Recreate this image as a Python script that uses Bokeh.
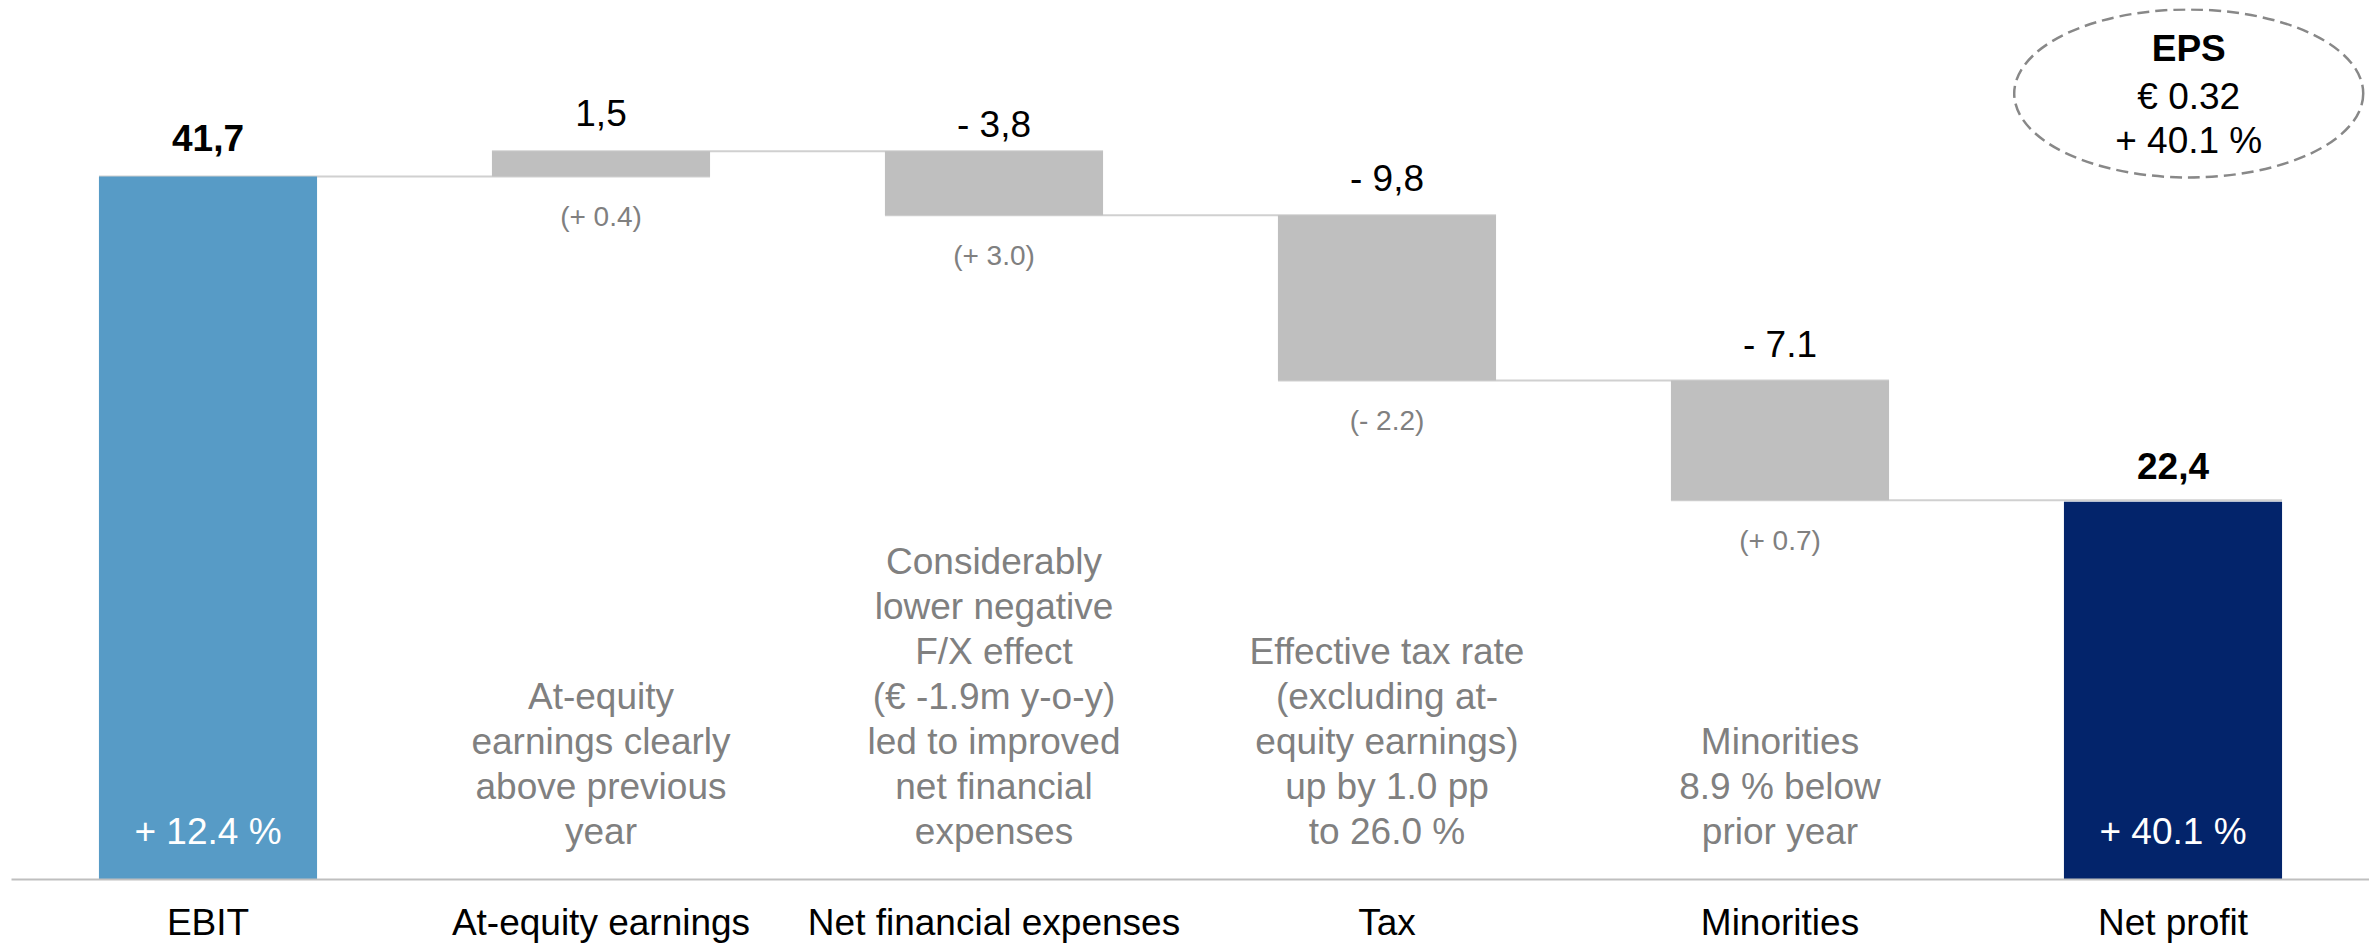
from bokeh.plotting import figure
from bokeh.models import FactorRange, Range1d, ColumnDataSource
from bokeh.core.properties import value
from bokeh.embed import file_html
from bokeh.resources import INLINE

# ---------------- data ----------------
categories = ["EBIT", "At-equity earnings", "Net financial expenses", "Tax", "Minorities", "Net profit"]
values = [41.7, 1.5, -3.8, -9.8, -7.1, 22.4]
is_total = [True, False, False, False, False, True]
value_labels = ["41,7", "1,5", "- 3,8", "- 9,8", "- 7.1", "22,4"]
change_labels = ["", "(+ 0.4)", "(+ 3.0)", "(- 2.2)", "(+ 0.7)", ""]
growth_labels = ["+ 12.4 %", "", "", "", "", "+ 40.1 %"]
notes = [
    [],
    ["At-equity", "earnings clearly", "above previous", "year"],
    ["Considerably", "lower negative", "F/X effect", "(\u20ac -1.9m y-o-y)", "led to improved", "net financial", "expenses"],
    ["Effective tax rate", "(excluding at-", "equity earnings)", "up by 1.0 pp", "to 26.0 %"],
    ["Minorities", "8.9 % below", "prior year"],
    [],
]
eps_lines = ["EPS", "\u20ac 0.32", "+ 40.1 %"]

# ---------------- style ----------------
FONT = "Liberation Sans"
FS = "37px"
FS_SMALL = "28px"
GRAY_TXT = "#808080"
bar_colors = ["#579BC6", "#BFBFBF", "#BFBFBF", "#BFBFBF", "#BFBFBF", "#03246B"]
label_styles = ["bold", "normal", "normal", "normal", "normal", "bold"]
label_gap_px = [38, 38, 27, 37, 36, 36]
BAR_W = 0.555

# ---------------- waterfall geometry from values ----------------
bottoms, tops, levels = [], [], []
running = 0.0
for v, tot in zip(values, is_total):
    if tot:
        b, t = 0.0, v
        running = v
    else:
        b, t = min(running, running + v), max(running, running + v)
        running += v
    bottoms.append(b)
    tops.append(t)
    levels.append(running)

p = figure(
    x_range=FactorRange(*categories, range_padding=0),
    y_range=Range1d(0, 51.66),
    frame_width=2358, frame_height=871,
    min_border_left=11, min_border_right=0, min_border_top=8, min_border_bottom=56,
    output_backend="svg", toolbar_location=None, y_axis_location=None,
)
p.outline_line_color = None
p.xgrid.visible = False
p.ygrid.visible = False
p.background_fill_color = "white"

# connectors
xc = [i + 0.5 for i in range(len(categories))]
seg = ColumnDataSource(dict(
    x0=[xc[i] - BAR_W / 2 for i in range(len(categories) - 1)],
    x1=[xc[i + 1] + BAR_W / 2 for i in range(len(categories) - 1)],
    y=[levels[i] for i in range(len(categories) - 1)],
))
p.segment(x0="x0", y0="y", x1="x1", y1="y", source=seg, line_color="#D0D0D0", line_width=2)

# bars
src = ColumnDataSource(dict(
    cat=categories, top=tops, bottom=bottoms, color=bar_colors,
    vlab=value_labels, style=label_styles, gap=[-g for g in label_gap_px],
    clab=change_labels, glab=growth_labels,
))
p.vbar(x="cat", top="top", bottom="bottom", width=BAR_W, source=src,
       fill_color="color", line_color=None)

# value labels above bars
p.text(x="cat", y="top", text="vlab", source=src, y_offset="gap",
       text_align="center", text_baseline="middle",
       text_font=value(FONT), text_font_size=FS, text_font_style="style",
       text_color="black")

# change labels below the grey bars
p.text(x="cat", y="bottom", text="clab", source=src, y_offset=40,
       text_align="center", text_baseline="middle",
       text_font=value(FONT), text_font_size=FS_SMALL, text_color=GRAY_TXT)

# growth labels inside total bars
p.text(x="cat", y=0, text="glab", source=src, y_offset=-48,
       text_align="center", text_baseline="middle",
       text_font=value(FONT), text_font_size=FS, text_color="white")

# notes
nx, nt, no = [], [], []
for cat, lines in zip(categories, notes):
    n = len(lines)
    for k, line in enumerate(lines):
        nx.append(cat)
        nt.append(line)
        no.append(-(48 + 45 * (n - 1 - k)))
p.text(x=nx, y=[0] * len(nx), text=nt, y_offset=no,
       text_align="center", text_baseline="middle",
       text_font=value(FONT), text_font_size=FS, text_color=GRAY_TXT)

# EPS bubble
ex = categories.index("Net profit") + 0.5 + 0.04
ey = 46.62
p.ellipse(x=[ex], y=[ey], width=[349], height=[168], width_units="screen", height_units="screen",
          fill_color=None, line_color="#888888", line_width=2.5, line_dash="12 6")
p.text(x=[ex] * 3, y=[ey] * 3, text=eps_lines, y_offset=[-45, 3, 47],
       text_align="center", text_baseline="middle",
       text_font=value(FONT), text_font_size=FS,
       text_font_style=["bold", "normal", "normal"], text_color="black")

# axis
ax = p.xaxis[0]
ax.axis_line_color = "#BFBFBF"
ax.axis_line_width = 2
ax.major_tick_line_color = None
ax.minor_tick_line_color = None
ax.major_tick_out = 0
ax.major_label_standoff = 22
ax.major_label_text_font = FONT
ax.major_label_text_font_size = FS
ax.major_label_text_color = "black"

open("out.html", "w").write(file_html(p, INLINE))
